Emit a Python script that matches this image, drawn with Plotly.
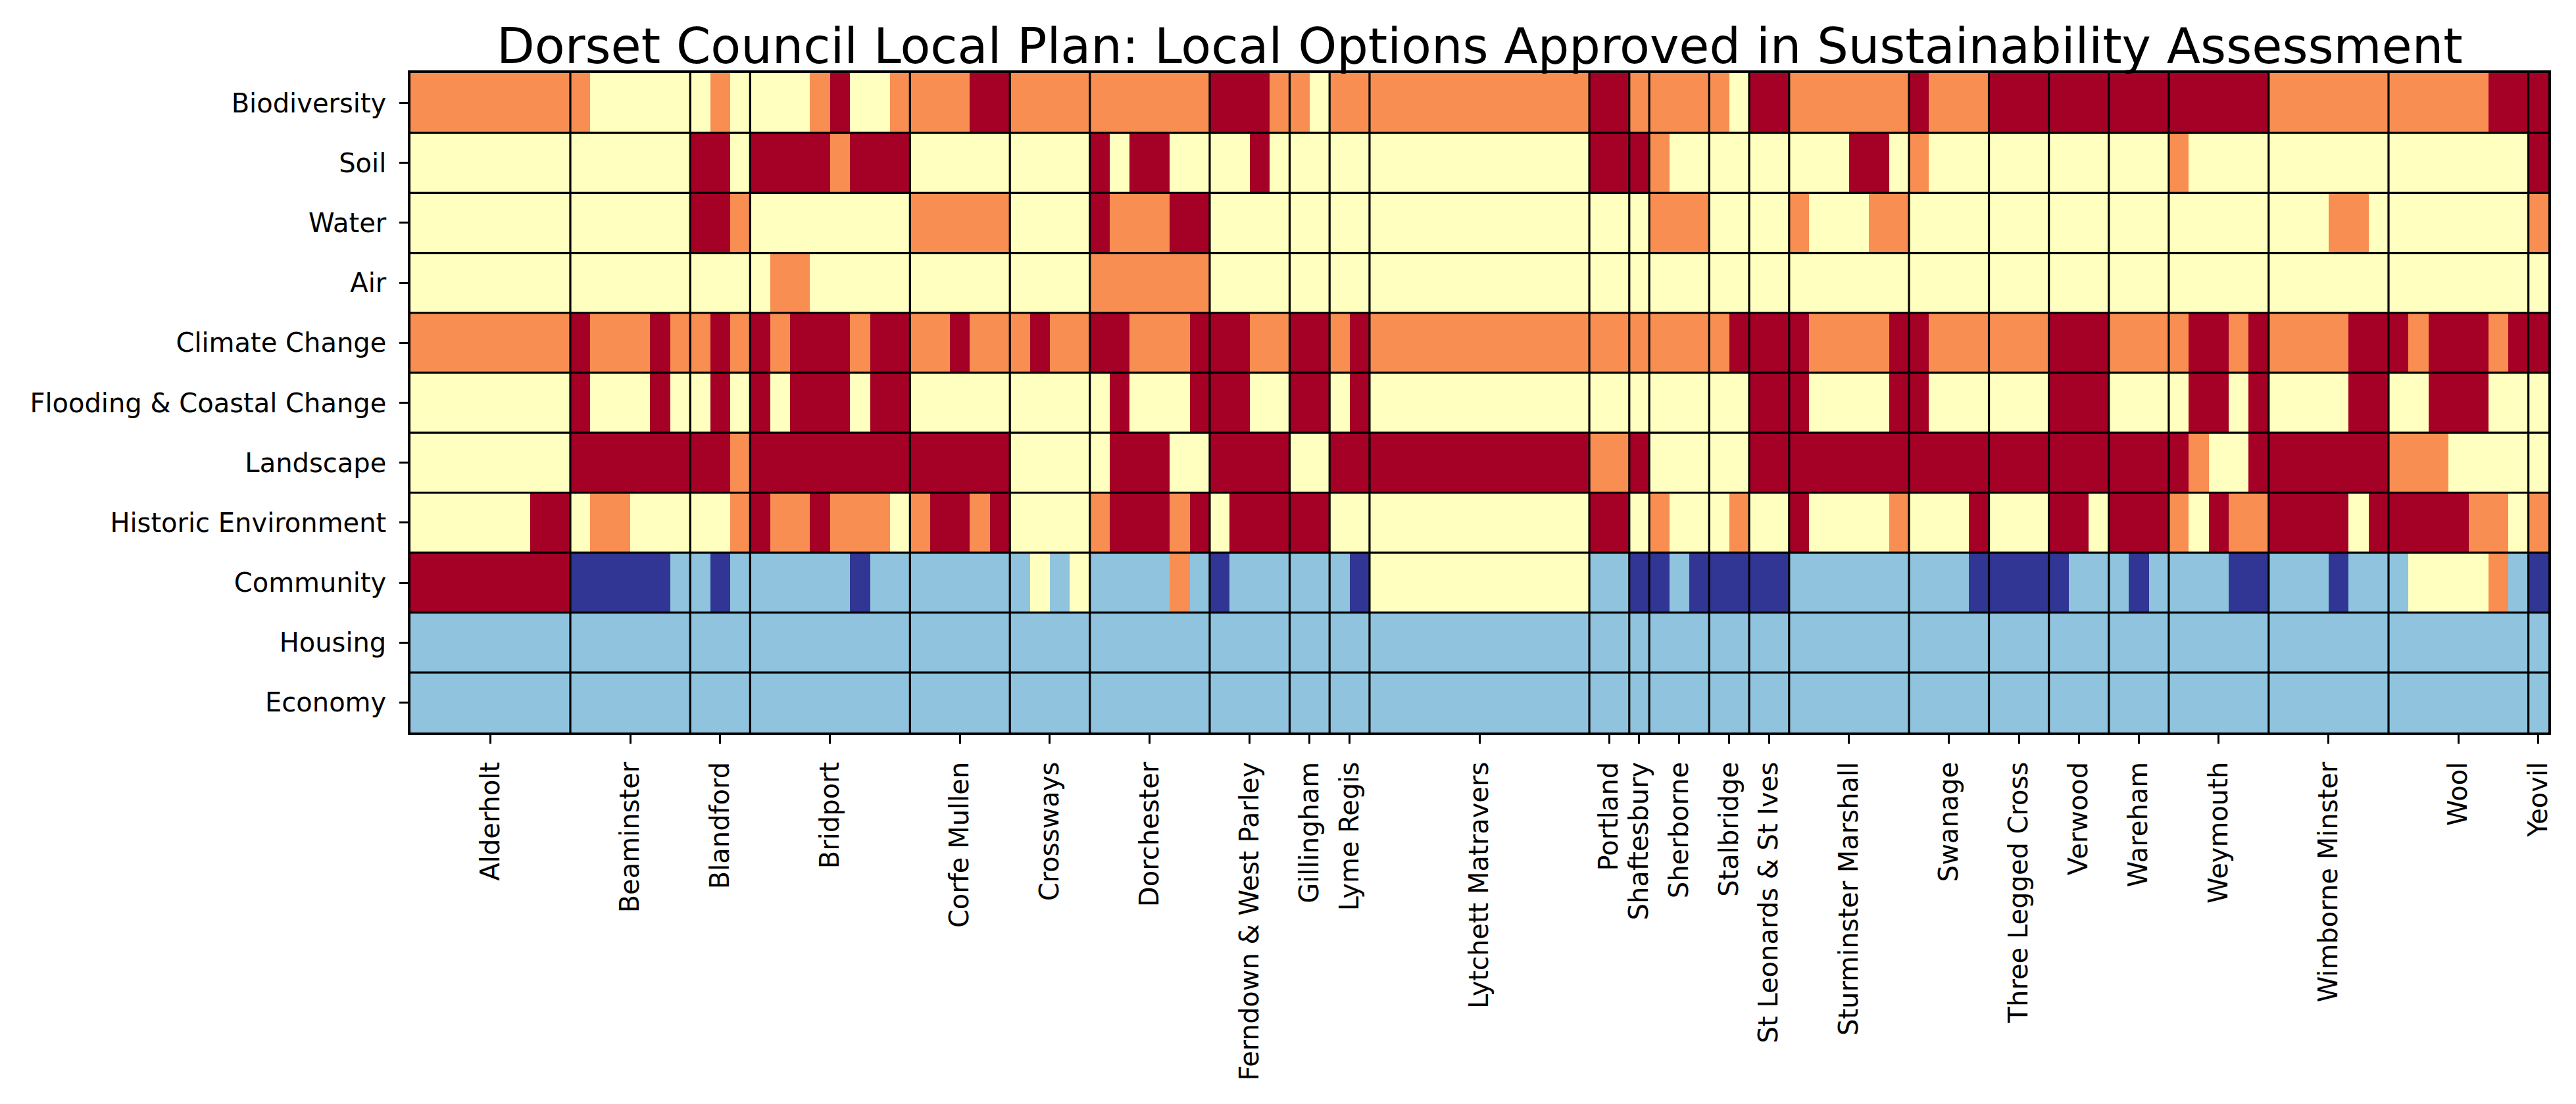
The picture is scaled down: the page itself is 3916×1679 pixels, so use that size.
import plotly.graph_objects as go

# ---------------- data ----------------
towns = ["Alderholt", "Beaminster", "Blandford", "Bridport", "Corfe Mullen", "Crossways",
         "Dorchester", "Ferndown & West Parley", "Gillingham", "Lyme Regis",
         "Lytchett Matravers", "Portland", "Shaftesbury", "Sherborne", "Stalbridge",
         "St Leonards & St Ives", "Sturminster Marshall", "Swanage", "Three Legged Cross",
         "Verwood", "Wareham", "Weymouth", "Wimborne Minster", "Wool", "Yeovil"]
sites_per_town = [8, 6, 3, 8, 5, 4, 6, 4, 2, 2, 11, 2, 1, 3, 2, 2, 6, 4, 3, 3, 3, 5, 6, 7, 1]

criteria = ["Biodiversity", "Soil", "Water", "Air", "Climate Change",
            "Flooding & Coastal Change", "Landscape", "Historic Environment",
            "Community", "Housing", "Economy"]

# rating codes per site, one string per town:
# R = -2 (significant negative), O = -1 (minor negative), Y = 0 (neutral),
# B = +1 (minor positive), D = +2 (significant positive)
score_of = {"R": -2, "O": -1, "Y": 0, "B": 1, "D": 2}

biodiversity = ["OOOOOOOO", "OYYYYY", "YOY", "YYYORYYO", "OOORR", "OOOO", "OOOOOO", "RRRO",
                "OY", "OO", "OOOOOOOOOOO", "RR", "O", "OOO", "OY", "RR", "OOOOOO", "ROOO",
                "RRR", "RRR", "RRR", "RRRRR", "OOOOOO", "OOOOORR", "R"]
soil = ["YYYYYYYY", "YYYYYY", "RRY", "RRRRORRR", "YYYYY", "YYYY", "RYRRYY", "YYRY",
        "YY", "YY", "YYYYYYYYYYY", "RR", "R", "OYY", "YY", "YY", "YYYRRY", "OYYY",
        "YYY", "YYY", "YYY", "OYYYY", "YYYYYY", "YYYYYYY", "R"]
water = ["YYYYYYYY", "YYYYYY", "RRO", "YYYYYYYY", "OOOOO", "YYYY", "ROOORR", "YYYY",
         "YY", "YY", "YYYYYYYYYYY", "YY", "Y", "OOO", "YY", "YY", "OYYYOO", "YYYY",
         "YYY", "YYY", "YYY", "YYYYY", "YYYOOY", "YYYYYYY", "O"]
air = ["YYYYYYYY", "YYYYYY", "YYY", "YOOYYYYY", "YYYYY", "YYYY", "OOOOOO", "YYYY",
       "YY", "YY", "YYYYYYYYYYY", "YY", "Y", "YYY", "YY", "YY", "YYYYYY", "YYYY",
       "YYY", "YYY", "YYY", "YYYYY", "YYYYYY", "YYYYYYY", "Y"]
climate_change = ["OOOOOOOO", "ROOORO", "ORO", "RORRRORR", "OOROO", "OROO", "RROOOR", "RROO",
                  "RR", "OR", "OOOOOOOOOOO", "OO", "O", "OOO", "OR", "RR", "ROOOOR", "ROOO",
                  "OOO", "RRR", "OOO", "ORROR", "OOOORR", "RORRROR", "R"]
flooding_coastal = ["YYYYYYYY", "RYYYRY", "YRY", "RYRRRYRR", "YYYYY", "YYYY", "YRYYYR", "RRYY",
                    "RR", "YR", "YYYYYYYYYYY", "YY", "Y", "YYY", "YY", "RR", "RYYYYR", "RYYY",
                    "YYY", "RRR", "YYY", "YRRYR", "YYYYRR", "YYRRRYY", "Y"]
landscape = ["YYYYYYYY", "RRRRRR", "RRO", "RRRRRRRR", "RRRRR", "YYYY", "YRRRYY", "RRRR",
             "YY", "RR", "RRRRRRRRRRR", "OO", "R", "YYY", "YY", "RR", "RRRRRR", "RRRR",
             "RRR", "RRR", "RRR", "ROYYR", "RRRRRR", "OOOYYYY", "Y"]
historic_environment = ["YYYYYYRR", "YOOYYY", "YYO", "ROOROOOY", "ORROR", "YYYY", "ORRROR", "YRRR",
                        "RR", "YY", "YYYYYYYYYYY", "RR", "Y", "OYY", "YO", "YY", "RYYYYO", "YYYR",
                        "YYY", "RRY", "RRR", "OYROO", "RRRRYR", "RRRROOY", "O"]
community = ["RRRRRRRR", "DDDDDB", "BDB", "BBBBBDBB", "BBBBB", "BYBY", "BBBBOB", "DBBB",
             "BB", "BD", "YYYYYYYYYYY", "BB", "D", "DBD", "DD", "DD", "BBBBBB", "BBBD",
             "DDD", "DBB", "BDB", "BBBDD", "BBBDBB", "BYYYYOB", "D"]
housing = ["BBBBBBBB", "BBBBBB", "BBB", "BBBBBBBB", "BBBBB", "BBBB", "BBBBBB", "BBBB",
           "BB", "BB", "BBBBBBBBBBB", "BB", "B", "BBB", "BB", "BB", "BBBBBB", "BBBB",
           "BBB", "BBB", "BBB", "BBBBB", "BBBBBB", "BBBBBBB", "B"]
economy = ["BBBBBBBB", "BBBBBB", "BBB", "BBBBBBBB", "BBBBB", "BBBB", "BBBBBB", "BBBB",
           "BB", "BB", "BBBBBBBBBBB", "BB", "B", "BBB", "BB", "BB", "BBBBBB", "BBBB",
           "BBB", "BBB", "BBB", "BBBBB", "BBBBBB", "BBBBBBB", "B"]

rows = [biodiversity, soil, water, air, climate_change, flooding_coastal, landscape,
        historic_environment, community, housing, economy]

# ---------------- build matrix ----------------
z = []
for r in rows:
    for codes, n in zip(r, sites_per_town):
        assert len(codes) == n
    z.append([score_of[c] for c in "".join(r)])

n_sites = sum(sites_per_town)
x_idx = list(range(n_sites))
y_idx = list(range(len(criteria)))

starts = []
s = 0
for n in sites_per_town:
    starts.append(s)
    s += n
centers = [st + (n - 1) / 2 for st, n in zip(starts, sites_per_town)]

colors = ["#a50026", "#f88e52", "#ffffbf", "#90c3dd", "#313695"]
cs = []
for i, c in enumerate(colors):
    cs.append([i / 5, c])
    cs.append([(i + 1) / 5, c])

fig = go.Figure(go.Heatmap(
    z=z, x=x_idx, y=y_idx, colorscale=cs, zmin=-2.5, zmax=2.5,
    showscale=False, hoverinfo="skip"))

shapes = []
for st in starts[1:]:
    shapes.append(dict(type="line", xref="x", yref="y", x0=st - 0.5, x1=st - 0.5,
                       y0=-0.5, y1=len(criteria) - 0.5,
                       line=dict(color="black", width=3.2)))
for i in range(len(criteria) - 1):
    shapes.append(dict(type="line", xref="x", yref="y", x0=-0.5, x1=n_sites - 0.5,
                       y0=i + 0.5, y1=i + 0.5, line=dict(color="black", width=3.2)))

font = "DejaVu Sans"
fig.update_layout(
    width=3916, height=1679, autosize=False,
    margin=dict(l=624, r=42, t=111, b=565, pad=0),
    paper_bgcolor="white", plot_bgcolor="white",
    font=dict(family=font, color="black", size=40),
    shapes=shapes,
    annotations=[dict(text="Dorset Council Local Plan: Local Options Approved in Sustainability Assessment",
                      xref="paper", yref="paper", x=0.5, y=1, xanchor="center", yanchor="bottom",
                      yshift=-5, showarrow=False, font=dict(family=font, size=75, color="black"))],
)
fig.update_xaxes(range=[-0.5, n_sites - 0.5], tickmode="array", tickvals=centers, ticktext=towns,
                 tickangle=-90, ticks="outside", ticklen=13, tickwidth=3, tickcolor="black",
                 showline=True, mirror=True, linewidth=3.5, linecolor="black",
                 showgrid=False, zeroline=False, tickfont=dict(size=40, family=font),
                 ticklabelstandoff=12)
fig.update_yaxes(range=[len(criteria) - 0.5, -0.5], tickmode="array", tickvals=y_idx,
                 ticktext=criteria, ticks="outside", ticklen=13, tickwidth=3, tickcolor="black",
                 showline=True, mirror=True, linewidth=3.5, linecolor="black",
                 showgrid=False, zeroline=False, tickfont=dict(size=40, family=font),
                 ticklabelstandoff=12)

fig.write_html("out.html")
